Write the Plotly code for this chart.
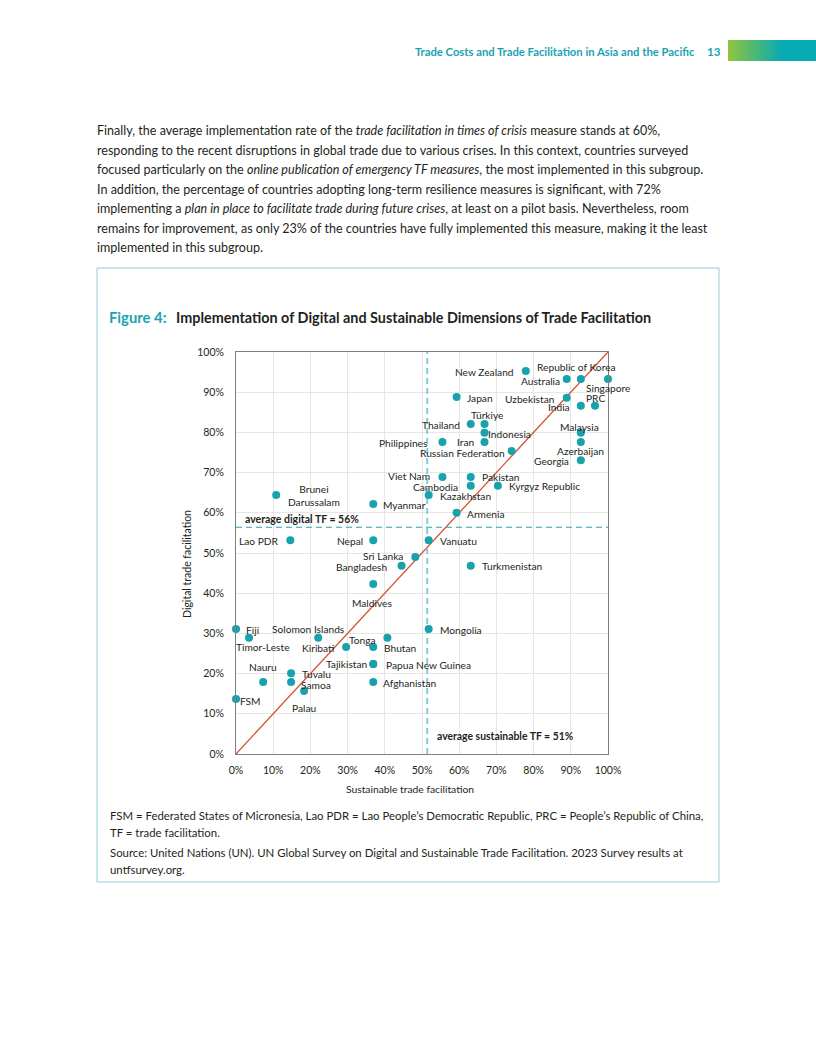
import plotly.graph_objects as go

# ---------------- data ----------------
countries = ["New Zealand", "Australia", "Republic of Korea", "Singapore", "Japan", "Uzbekistan",
             "India", "PRC", "Thailand", "Türkiye", "Indonesia", "Iran", "Philippines",
             "Russian Federation", "Malaysia", "Azerbaijan", "Georgia", "Viet Nam", "Pakistan",
             "Cambodia", "Kyrgyz Republic", "Kazakhstan", "Armenia", "Brunei<br>Darussalam",
             "Myanmar", "Lao PDR", "Nepal", "Vanuatu", "Sri Lanka", "Bangladesh", "Turkmenistan",
             "Maldives", "Fiji", "Timor-Leste", "Solomon Islands", "Kiribati", "Tonga", "Bhutan",
             "Tajikistan", "Papua New Guinea", "Afghanistan", "Tuvalu", "Samoa", "Nauru", "Palau",
             "FSM", "Mongolia"]
sustainable = [77.9, 88.9, 92.7, 100.0, 59.3, 88.9,
               92.7, 96.5, 63.1, 66.8, 66.8, 66.8, 55.5,
               74.1, 92.7, 92.7, 92.7, 55.5, 63.1,
               63.1, 70.4, 51.8, 59.3, 10.8,
               36.9, 14.6, 36.9, 51.8, 48.2, 44.5, 63.1,
               36.9, 0.0, 3.5, 22.1, 29.6, 40.7, 36.9,
               36.9, 36.9, 36.9, 14.8, 14.8, 7.3, 18.3,
               0.0, 51.8]
digital = [95.3, 93.3, 93.3, 93.3, 88.8, 88.6,
           86.6, 86.6, 82.1, 82.1, 79.9, 77.6, 77.6,
           75.4, 79.9, 77.6, 73.1, 68.9, 68.9,
           66.7, 66.7, 64.4, 60.0, 64.4,
           62.2, 53.2, 53.2, 53.2, 49.0, 46.8, 46.8,
           42.3, 31.1, 28.9, 28.9, 26.6, 28.9, 26.6,
           22.4, 22.4, 17.9, 20.1, 17.9, 17.9, 15.7,
           13.7, 31.1]
avg_digital = 56.4
avg_sustainable = 51.4
tick_vals = [0, 10, 20, 30, 40, 50, 60, 70, 80, 90, 100]

# label placement (style): anchor, x offset px, y offset px (down positive)
label_pos = {
    "New Zealand": ("right", -10, 1), "Australia": ("right", -5, 2),
    "Republic of Korea": ("center", -4, -12), "Singapore": ("center", 0, 9),
    "Japan": ("left", 8, 1), "Uzbekistan": ("right", -10, 1), "India": ("right", -9, 1),
    "PRC": ("center", 1, -8), "Thailand": ("right", -9, 1), "Türkiye": ("center", 2, -9),
    "Indonesia": ("left", 1, 1), "Iran": ("right", -9, 0), "Philippines": ("right", -12, 1),
    "Russian Federation": ("right", -5, 2), "Malaysia": ("center", -1, -6),
    "Azerbaijan": ("center", 0, 9), "Georgia": ("right", -10, 1), "Viet Nam": ("right", -10, -1),
    "Pakistan": ("left", 9, 0), "Cambodia": ("right", -11, 1), "Kyrgyz Republic": ("left", 9, 0),
    "Kazakhstan": ("left", 9, 1), "Armenia": ("left", 8, 1),
    "Brunei<br>Darussalam": ("center", 38, 0), "Myanmar": ("left", 8, 1),
    "Lao PDR": ("right", -9, 1), "Nepal": ("right", -8, 1), "Vanuatu": ("left", 9, 1),
    "Sri Lanka": ("right", -10, -1), "Bangladesh": ("right", -12, 1), "Turkmenistan": ("left", 9, 0),
    "Maldives": ("center", -1, 19), "Fiji": ("left", 8, 1), "Timor-Leste": ("center", 14, 9),
    "Solomon Islands": ("center", -10, -9), "Kiribati": ("right", -10, 1), "Tonga": ("right", -9, 2),
    "Bhutan": ("left", 9, 1), "Tajikistan": ("right", -3, 0), "Papua New Guinea": ("left", 11, 1),
    "Afghanistan": ("left", 8, 1), "Tuvalu": ("left", 9, 1), "Samoa": ("left", 8, 3),
    "Nauru": ("center", 0, -15), "Palau": ("center", 0, 17), "FSM": ("left", 2, 2),
    "Mongolia": ("left", 9, 1),
}

W, H = 816, 1056
FONT = "Lato"
TEAL = "#1AA3B3"
DARK = "#231F20"


def px(x):
    return x / W


def py(y):
    return 1 - y / H


fig = go.Figure()

# diagonal 45-degree line
fig.add_trace(go.Scatter(x=[0, 100], y=[0, 100], mode="lines",
                         line=dict(color="#D4532F", width=1.3), hoverinfo="skip", showlegend=False))
# average lines
fig.add_trace(go.Scatter(x=[0, 100], y=[avg_digital, avg_digital], mode="lines",
                         line=dict(color="#2BA3AD", width=1.2, dash="6px,4px"),
                         hoverinfo="skip", showlegend=False))
fig.add_trace(go.Scatter(x=[avg_sustainable, avg_sustainable], y=[0, 100], mode="lines",
                         line=dict(color="#7FCFD6", width=2, dash="6px,4px"),
                         hoverinfo="skip", showlegend=False))
# points
fig.add_trace(go.Scatter(x=sustainable, y=digital, mode="markers",
                         marker=dict(color="#17A2AC", size=8), cliponaxis=False, showlegend=False))

axis_common = dict(range=[0, 100], tickvals=tick_vals, ticktext=[f"{v}%" for v in tick_vals],
                   showgrid=True, gridcolor="#E6E6E6", showline=True, linecolor="#7F7F7F",
                   linewidth=1, mirror=True, zeroline=False, ticks="", automargin=False,
                   tickfont=dict(family=FONT, size=10.5, color=DARK))
fig.update_xaxes(domain=[px(236), px(608)], ticklabelstandoff=6, **axis_common)
fig.update_yaxes(domain=[py(754), py(352)], ticklabelstandoff=9, **axis_common)

ann = []
# data labels
for c, xv, yv in zip(countries, sustainable, digital):
    anc, dx, dy = label_pos[c]
    ann.append(dict(x=xv, y=yv, xref="x", yref="y", xanchor=anc, yanchor="middle",
                    xshift=dx, yshift=-dy, text=c, showarrow=False, align="center",
                    font=dict(family=FONT, size=10.2, color=DARK)))
# avg labels
ann.append(dict(x=2, y=avg_digital, xref="x", yref="y", xanchor="left", yanchor="bottom",
                yshift=0, text="<b>average digital TF = 56%</b>", showarrow=False,
                font=dict(family=FONT, size=10.5, color=DARK)))
ann.append(dict(x=avg_sustainable + 2.0, y=4.5, xref="x", yref="y", xanchor="left", yanchor="middle",
                text="<b>average sustainable TF = 51%</b>", showarrow=False,
                font=dict(family=FONT, size=10.4, color=DARK)))
# axis titles
ann.append(dict(x=px(187), y=py(564), xref="paper", yref="paper", xanchor="center", yanchor="middle",
                text="Digital trade facilitation", textangle=-90, showarrow=False,
                font=dict(family=FONT, size=10.5, color=DARK)))
ann.append(dict(x=px(410), y=py(789), xref="paper", yref="paper", xanchor="center", yanchor="middle",
                text="Sustainable trade facilitation", showarrow=False,
                font=dict(family=FONT, size=10.3, color=DARK)))

# header
ann.append(dict(x=px(697), y=py(52), xref="paper", yref="paper", xanchor="right", yanchor="middle",
                text="<b>Trade Costs and Trade Facilitation in Asia and the Pacific</b>", showarrow=False,
                font=dict(family=FONT, size=11.25, color=TEAL)))
ann.append(dict(x=px(714), y=py(52), xref="paper", yref="paper", xanchor="center", yanchor="middle",
                text="<b>13</b>", showarrow=False, font=dict(family=FONT, size=11.5, color=TEAL)))

# body text
body = [
    "Finally, the average implementation rate of the <i>trade facilitation in times of crisis</i> measure stands at 60%,",
    "responding to the recent disruptions in global trade due to various crises. In this context, countries surveyed",
    "focused particularly on the <i>online publication of emergency TF measures</i>, the most implemented in this subgroup.",
    "In addition, the percentage of countries adopting long-term resilience measures is significant, with 72%",
    "implementing a <i>plan in place to facilitate trade during future crises</i>, at least on a pilot basis. Nevertheless, room",
    "remains for improvement, as only 23% of the countries have fully implemented this measure, making it the least",
    "implemented in this subgroup.",
]
for i, line in enumerate(body):
    ann.append(dict(x=px(95), y=py(131 + i * 19.4), xref="paper", yref="paper", xanchor="left",
                    yanchor="middle", text=line, showarrow=False,
                    font=dict(family=FONT, size=12.55, color=DARK)))

# figure title
ann.append(dict(x=px(107), y=py(317), xref="paper", yref="paper", xanchor="left", yanchor="middle",
                text="<b>Figure 4:</b>", showarrow=False, font=dict(family=FONT, size=14.8, color=TEAL)))
ann.append(dict(x=px(174), y=py(317), xref="paper", yref="paper", xanchor="left", yanchor="middle",
                text="<b>Implementation of Digital and Sustainable Dimensions of Trade Facilitation</b>",
                showarrow=False, font=dict(family=FONT, size=14.4, color=DARK)))

# notes
notes = [
    (815, "FSM = Federated States of Micronesia, Lao PDR = Lao People’s Democratic Republic, PRC = People’s Republic of China,"),
    (832, "TF = trade facilitation."),
    (852, "Source: United Nations (UN). UN Global Survey on Digital and Sustainable Trade Facilitation. 2023 Survey results at"),
    (869, "untfsurvey.org."),
]
for yy, t in notes:
    ann.append(dict(x=px(108), y=py(yy), xref="paper", yref="paper", xanchor="left", yanchor="middle",
                    text=t, showarrow=False, font=dict(family=FONT, size=11.4, color=DARK)))

shapes = []
# figure box
shapes.append(dict(type="rect", xref="paper", yref="paper", x0=px(97), x1=px(719), y0=py(882), y1=py(268),
                   line=dict(color="#8ED2D8", width=1), fillcolor="rgba(0,0,0,0)", layer="below"))
# header gradient bar
c0 = (140, 196, 63)
c1 = (6, 170, 180)
n = 24
x_start, x_end = 728, 816
for k in range(n):
    t = min(1.0, k / (n * 0.6))
    col = tuple(int(c0[j] + (c1[j] - c0[j]) * t) for j in range(3))
    xa = x_start + (x_end - x_start) * k / n
    xb = x_start + (x_end - x_start) * (k + 1) / n + 0.6
    shapes.append(dict(type="rect", xref="paper", yref="paper", x0=px(xa), x1=px(min(xb, W)),
                       y0=py(61), y1=py(40), line=dict(width=0), fillcolor="rgb(%d,%d,%d)" % col))

fig.update_layout(width=W, height=H, margin=dict(l=0, r=0, t=0, b=0, autoexpand=False),
                  paper_bgcolor="white", plot_bgcolor="white", annotations=ann, shapes=shapes,
                  showlegend=False, font=dict(family=FONT, color=DARK))

fig.write_html("out.html", config={"displayModeBar": False},
               post_script="document.body.style.margin='0';document.body.style.overflow='hidden';")
